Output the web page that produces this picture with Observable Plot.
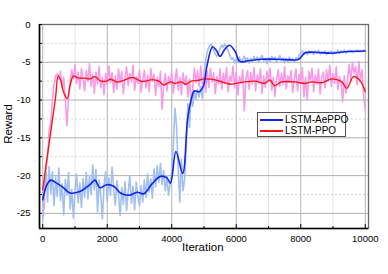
<!DOCTYPE html>
<html><head><meta charset="utf-8">
<script src="https://cdn.jsdelivr.net/npm/d3@7"></script>
<script src="https://cdn.jsdelivr.net/npm/@observablehq/plot@0.6"></script>
<style>
body{margin:0;background:#fff}
#wrap{position:relative;width:388px;height:274px;font-family:"Liberation Sans",Arial,sans-serif;color:#000}
#legend{position:absolute;left:257px;top:112px;width:89px;height:25px;border:1px solid #555;background:#fff;font-size:10px;box-sizing:border-box}
.row{position:absolute;left:1px;height:10px;line-height:10px;white-space:nowrap}
.sw{position:absolute;left:1px;top:4px;width:23px;height:0;border-top:2px solid}
.lb{position:absolute;left:26px;top:0}
.axl{position:absolute;font-size:11.5px;white-space:nowrap}
</style></head>
<body><div id="wrap"><div id="chart"></div>
<div id="legend"></div>
<div class="axl" id="xl"></div><div class="axl" id="yl"></div>
</div>
<script>
const seriesNames = ["LSTM-AePPO", "LSTM-PPO"];
const seriesColors = ["#1424e6", "#ff1414"];
const rawColors = ["#a2bff2", "#f79be8"];
const xLabel = "Iteration", yLabel = "Reward";
const xDomain = [-100, 10100], yDomain = [-27, 0];
const xMajor = [0, 2000, 4000, 6000, 8000, 10000];
const xMinor = [1000, 3000, 5000, 7000, 9000];
const yMajor = [0, -5, -10, -15, -20, -25];
const yMinor = [-2.5, -7.5, -12.5, -17.5, -22.5];

// raw episodes, one value every 50 iterations (0..10000)
const rawStep = 50;
const ppoRaw = [
 -25.5,-24.0,-19.0,-17.5,-14.0,-13.0,-10.0,-8.0,-6.8,-6.5,
 -7.2,-6.2,-8.5,-7.0,-9.8,-13.4,-9.5,-7.5,-6.0,-7.2,
 -5.3,-7.8,-6.3,-8.5,-5.8,-7.2,-8.8,-6.1,-7.5,-5.2,
 -8.2,-6.6,-9.1,-6.3,-7.9,-5.6,-8.4,-7.0,-9.3,-6.5,
 -8.0,-5.5,-7.7,-6.4,-9.0,-6.8,-8.6,-5.9,-7.8,-6.2,
 -9.2,-7.1,-5.6,-8.1,-6.5,-7.6,-5.4,-8.7,-6.9,-7.8,
 -6.0,-9.0,-7.3,-6.1,-8.4,-6.7,-8.9,-5.8,-7.5,-6.6,
 -9.4,-7.0,-8.2,-6.2,-11.2,-8.0,-6.5,-8.8,-6.9,-7.9,
 -6.3,-9.1,-7.4,-5.9,-8.7,-7.0,-9.3,-6.4,-8.0,-6.8,
 -9.6,-7.2,-10.4,-8.5,-5.8,-7.7,-6.1,-8.2,-5.5,-7.9,
 -6.6,-9.0,-6.2,-8.3,-5.8,-7.6,-6.4,-9.2,-6.9,-7.9,
 -5.9,-8.6,-6.5,-7.8,-5.7,-8.9,-6.8,-7.5,-5.5,-8.4,
 -6.3,-9.3,-6.9,-7.8,-6.0,-11.4,-7.2,-6.1,-8.6,-6.4,
 -7.9,-5.7,-8.8,-6.7,-7.7,-5.9,-9.1,-6.8,-8.3,-6.2,
 -7.4,-5.8,-8.7,-7.0,-9.5,-7.3,-6.0,-8.2,-6.5,-7.9,
 -5.6,-8.5,-6.8,-7.6,-6.1,-9.0,-7.2,-5.9,-8.8,-6.6,
 -7.8,-5.7,-9.6,-7.0,-10.0,-6.2,-7.5,-5.8,-8.9,-6.7,
 -7.9,-5.9,-9.2,-7.1,-6.3,-8.4,-6.0,-7.5,-5.4,-8.2,
 -6.5,-7.8,-5.6,-8.6,-6.9,-7.7,-10.2,-6.8,-9.1,-7.2,
 -5.3,-7.5,-5.0,-6.4,-5.6,-8.0,-4.9,-7.3,-6.0,-9.5,
 -11.3
];
const aeRaw = [
 -25.9,-21.0,-19.3,-23.5,-18.8,-22.4,-19.5,-24.0,-20.2,-22.8,
 -19.0,-23.3,-21.1,-25.2,-20.5,-22.6,-19.6,-24.4,-21.8,-25.6,
 -22.0,-19.8,-23.6,-21.0,-24.2,-20.4,-22.9,-19.6,-23.1,-20.1,
 -22.5,-18.6,-21.9,-19.2,-24.8,-20.6,-22.7,-25.7,-21.2,-19.5,
 -23.4,-20.3,-22.6,-18.9,-21.8,-23.9,-20.7,-22.5,-25.3,-21.6,
 -23.8,-20.8,-24.6,-22.1,-20.0,-23.7,-21.4,-24.5,-20.9,-22.8,
 -24.0,-21.3,-23.5,-20.6,-22.9,-19.8,-22.2,-20.4,-23.0,-19.1,
 -21.5,-18.7,-20.9,-18.4,-21.2,-19.3,-22.0,-20.1,-22.6,-21.0,
 -19.5,-15.8,-11.1,-13.5,-19.0,-23.5,-17.8,-22.0,-20.5,-16.0,
 -10.5,-13.6,-9.3,-10.8,-8.8,-9.9,-8.6,-9.6,-8.2,-9.8,
 -6.5,-4.8,-3.6,-3.0,-2.6,-3.0,-3.4,-3.9,-4.2,-3.7,
 -3.2,-2.7,-3.0,-2.6,-3.1,-3.4,-4.0,-4.6,-4.4,-5.1,
 -4.5,-4.9,-4.3,-5.0,-4.6,-4.2,-4.8,-4.4,-5.1,-4.5,
 -4.9,-4.2,-4.7,-4.3,-5.0,-4.4,-4.1,-4.8,-4.5,-5.2,
 -4.4,-4.9,-4.2,-4.7,-4.3,-5.0,-4.6,-4.1,-4.8,-4.4,
 -5.1,-4.5,-4.9,-4.3,-4.8,-4.5,-5.0,-4.4,-4.6,-4.0,
 -3.7,-3.5,-3.9,-3.6,-4.0,-3.5,-3.8,-3.6,-4.0,-3.5,
 -3.8,-3.4,-3.9,-3.6,-3.8,-3.5,-4.0,-3.6,-3.8,-3.5,
 -3.9,-3.6,-3.7,-3.4,-3.8,-3.5,-3.7,-3.4,-3.8,-3.5,
 -3.6,-3.4,-3.7,-3.5,-3.6,-3.4,-3.6,-3.5,-3.6,-3.4,
 -3.5
];

// smoothed curves
const ppoSmoothX = [0,100,200,300,400,480,560,650,760,850,950,1050,1150,1300,1460,1620,1800,1980,2100,2310,2510,2770,3080,3390,3600,3750,3960,4100,4290,4440,4600,4800,5010,5320,5630,5820,5960,6270,6580,6880,7040,7190,7400,7810,8140,8350,8660,8960,9270,9430,9635,9840,10000];
const ppoSmoothY = [-21.9,-18.7,-15.7,-12.6,-9.6,-6.8,-7.4,-9.0,-9.8,-8.0,-6.8,-7.0,-7.1,-7.1,-7.2,-6.9,-7.5,-7.5,-7.25,-7.6,-7.4,-7.0,-7.55,-7.3,-7.5,-8.0,-7.6,-7.8,-7.6,-7.9,-7.5,-7.4,-7.2,-7.3,-7.7,-7.9,-7.8,-7.6,-7.5,-7.8,-7.35,-8.1,-7.6,-7.6,-7.8,-7.6,-7.7,-7.2,-7.6,-8.45,-6.9,-7.45,-8.9];
const aeSmoothX = [0,120,250,430,640,845,1150,1460,1620,1770,1980,2200,2410,2670,2930,3130,3390,3650,3850,3960,4130,4340,4490,4600,4700,4850,4985,5090,5265,5380,5500,5640,5790,5970,6110,6370,6780,7300,7810,7940,8140,8550,8960,9380,10000];
const aeSmoothY = [-23.2,-21.3,-20.6,-21.0,-21.6,-22.3,-22.1,-21.2,-20.6,-21.6,-21.2,-21.4,-22.3,-22.6,-22.2,-22.4,-21.1,-20.1,-20.3,-21.0,-16.8,-19.7,-12.6,-10.0,-8.8,-8.9,-8.1,-5.5,-2.95,-3.4,-4.2,-3.3,-2.75,-3.6,-4.9,-4.8,-4.6,-4.6,-4.7,-4.6,-3.75,-3.7,-3.8,-3.6,-3.5];

const rawRows = (vals, s) => vals.map((v, i) => ({iter: i * rawStep, v, s}));
const smRows = (xs, ys, s) => xs.map((x, i) => ({iter: x, v: ys[i], s}));
const fmt = d => String(d);

const chart = Plot.plot({
  width: 388, height: 274,
  marginLeft: 39, marginRight: 20, marginTop: 24, marginBottom: 46,
  style: {fontFamily: "'Liberation Sans', Arial, sans-serif", fontSize: "9.5px", color: "#000", background: "#fff", overflow: "visible"},
  x: {domain: xDomain},
  y: {domain: yDomain},
  marks: [
    Plot.gridX(xMinor, {stroke: "#e4e4e4", strokeOpacity: 1}),
    Plot.gridX(xMajor, {stroke: "#b4b4b4", strokeOpacity: 1}),
    Plot.gridY(yMinor, {stroke: "#d4d4d4", strokeOpacity: 1, strokeDasharray: "2,2"}),
    Plot.gridY(yMajor, {stroke: "#b0b0b0", strokeOpacity: 1}),
    Plot.line(rawRows(ppoRaw, 1), {x: "iter", y: "v", stroke: rawColors[1], strokeWidth: 1.6}),
    Plot.line(rawRows(aeRaw, 0), {x: "iter", y: "v", stroke: rawColors[0], strokeWidth: 1.6}),
    Plot.line(smRows(ppoSmoothX, ppoSmoothY, 1), {x: "iter", y: "v", stroke: seriesColors[1], strokeWidth: 1.4, curve: "catmull-rom"}),
    Plot.line(smRows(aeSmoothX, aeSmoothY, 0), {x: "iter", y: "v", stroke: seriesColors[0], strokeWidth: 1.6, curve: "catmull-rom"}),
    Plot.frame({stroke: "#6a6a6a", strokeWidth: 1.3}),
    Plot.ruleX([xDomain[0]], {stroke: "#000", strokeWidth: 1.6}),
    Plot.ruleY([yDomain[0]], {stroke: "#000", strokeWidth: 1.6}),
    Plot.axisX(xMajor, {tickSize: -4, tickPadding: 11, tickFormat: fmt, label: null}),
    Plot.axisX(xMinor, {tickSize: -2, tickFormat: () => "", label: null}),
    Plot.axisY(yMajor, {tickSize: -3, tickPadding: 12, tickFormat: fmt, label: null}),
    Plot.axisY(yMinor, {tickSize: -3, tickFormat: () => "", label: null})
  ]
});
document.getElementById("chart").append(chart);

const lg = document.getElementById("legend");
seriesNames.forEach((n, i) => {
  const r = document.createElement("div");
  r.className = "row";
  r.style.top = (2 + i * 10.5) + "px";
  r.innerHTML = `<div class="sw" style="border-color:${seriesColors[i]}"></div><div class="lb">${n}</div>`;
  lg.append(r);
});
const xl = document.getElementById("xl");
xl.textContent = xLabel;
xl.style.left = "182px"; xl.style.top = "241px";
const yl = document.getElementById("yl");
yl.textContent = yLabel;
yl.style.left = "-12px"; yl.style.top = "118px"; yl.style.transform = "rotate(-90deg)";
</script>
</body></html>
